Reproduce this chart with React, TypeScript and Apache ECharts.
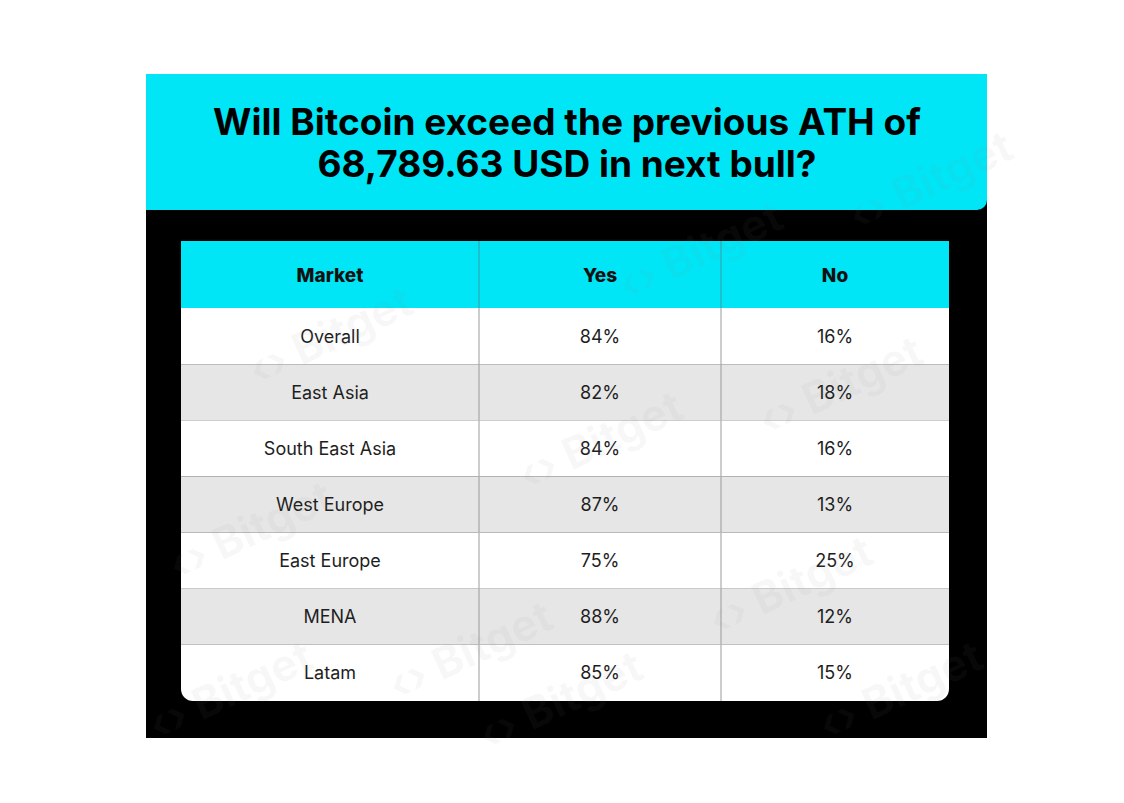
import React, { useEffect, useRef } from "react";
import * as echarts from "echarts";

const titleLines = ["Will Bitcoin exceed the previous ATH of", "68,789.63 USD in next bull?"];
const columnHeaders = ["Market", "Yes", "No"];
const markets = ["Overall", "East Asia", "South East Asia", "West Europe", "East Europe", "MENA", "Latam"];
const yesPct = [84, 82, 84, 87, 75, 88, 85];
const noPct = [16, 18, 16, 13, 25, 12, 15];

const CYAN = "#00e6f6";
const FONT = "Inter, 'Noto Sans', sans-serif";
// table layout (value-axis units along x)
const COL_EDGES = [0, 298, 540, 768];
const colCenter = (k: number) => (COL_EDGES[k] + COL_EDGES[k + 1]) / 2;

export default function App() {
  const ref = useRef<HTMLDivElement>(null);
  useEffect(() => {
    if (!ref.current) return;
    const chart = echarts.init(ref.current, null, { renderer: "svg" });
    const last = markets.length - 1;
    const watermarks = [
      [330, 335], [600, 440], [840, 385], [250, 530], [790, 585], [470, 650], [230, 690], [900, 690], [700, 250], [560, 700], [930, 180],
    ].map(([x, y]) => ({
      type: "text",
      x,
      y,
      rotation: (25 * Math.PI) / 180,
      z: 100,
      style: {
        text: "‹› Bitget",
        fill: "rgba(140,140,140,0.06)",
        font: `bold 44px ${FONT}`,
        align: "center",
        verticalAlign: "middle",
      },
    }));
    chart.setOption({
      animation: false,
      backgroundColor: "#ffffff",
      grid: { left: 181, width: 768, top: 308, height: 393, containLabel: false },
      xAxis: { type: "value", min: 0, max: 768, show: false },
      yAxis: { type: "category", data: markets, inverse: true, show: false },
      graphic: [
        { type: "rect", shape: { x: 146, y: 74, width: 841, height: 664 }, style: { fill: "#000000" }, z: -10 },
        { type: "rect", shape: { x: 146, y: 74, width: 841, height: 136, r: [0, 0, 10, 0] }, style: { fill: CYAN }, z: -9 },
        ...titleLines.map((t, i) => ({
          type: "text",
          x: 567,
          y: 121 + i * 42,
          z: 5,
          style: { text: t, fill: "#000", font: `bold 37px ${FONT}`, align: "center", verticalAlign: "middle" },
        })),
        { type: "rect", shape: { x: 181, y: 241, width: 768, height: 67 }, style: { fill: CYAN }, z: 1 },
        ...[1, 2].map((k) => ({
          type: "line",
          z: 2,
          shape: { x1: 181 + COL_EDGES[k], y1: 241, x2: 181 + COL_EDGES[k], y2: 308 },
          style: { stroke: "#3a9aa6", lineWidth: 1 },
        })),
        ...columnHeaders.map((h, k) => ({
          type: "text",
          x: 181 + colCenter(k),
          y: 275,
          z: 3,
          style: { text: h, fill: "#111", font: `800 19px ${FONT}`, align: "center", verticalAlign: "middle" },
        })),
        ...watermarks,
      ],
      series: [
        {
          type: "custom",
          data: markets.map((m, i) => [i, yesPct[i], noPct[i]]),
          renderItem: (params: any, api: any) => {
            const i = api.value(0);
            const yes = api.value(1);
            const no = api.value(2);
            const h = api.size([0, 1])[1];
            const left = api.coord([COL_EDGES[0], i]);
            const right = api.coord([COL_EDGES[3], i]);
            const yc = left[1];
            const top = yc - h / 2;
            const texts = [markets[i], `${yes}%`, `${no}%`];
            return {
              type: "group",
              children: [
                {
                  type: "rect",
                  shape: { x: left[0], y: top, width: right[0] - left[0], height: h, r: i === last ? [0, 0, 12, 12] : 0 },
                  style: { fill: i % 2 === 1 ? "#e6e6e6" : "#ffffff" },
                },
                ...[1, 2].map((k) => {
                  const x = api.coord([COL_EDGES[k], i])[0];
                  return {
                    type: "line",
                    shape: { x1: x, y1: top, x2: x, y2: top + h },
                    style: { stroke: "#9a9a9a", lineWidth: 1 },
                  };
                }),
                ...texts.map((t, k) => ({
                  type: "text",
                  x: api.coord([colCenter(k), i])[0],
                  y: yc,
                  style: { text: t, fill: "#1e1e1e", font: `18px ${FONT}`, align: "center", verticalAlign: "middle" },
                })),
              ],
            };
          },
        },
      ],
    });
    return () => chart.dispose();
  }, []);
  return <div ref={ref} style={{ position: "absolute", left: 0, top: 0, width: 1124, height: 803 }} />;
}
